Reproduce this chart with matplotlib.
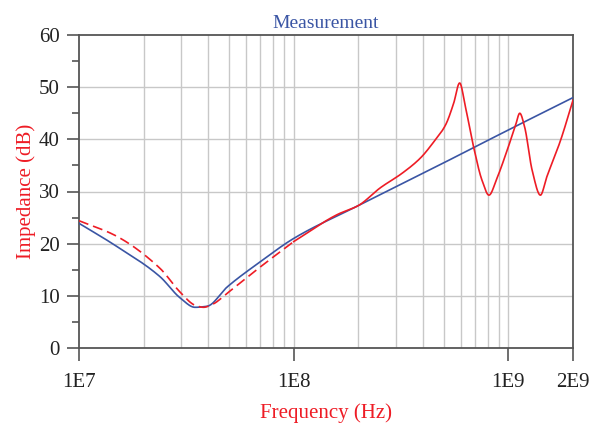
import numpy as np
import matplotlib.pyplot as plt
from matplotlib.ticker import FixedLocator, NullFormatter, FixedFormatter

FONT = 'Liberation Serif'
BLUE = '#3a55a4'
RED = '#ee1c25'

# blue trace (measurement)
blue_f = [1e7, 1.47e7, 2.38e7, 2.96e7, 3.47e7, 3.95e7, 4.9e7, 6.97e7, 1e8, 2e8, 5e8, 1e9, 2e9]
blue_db = [23.9, 19.7, 13.7, 9.6, 7.8, 8.0, 11.7, 16.5, 21.0, 27.3, 35.5, 41.8, 48.0]

# red trace, dashed part (low frequency)
red_lo_f = [1e7, 1.47e7, 2.38e7, 2.96e7, 3.47e7, 3.8e7, 4.2e7, 4.9e7, 6.97e7, 1e8]
red_lo_db = [24.4, 21.6, 15.3, 10.7, 8.2, 7.8, 8.4, 10.5, 15.5, 20.4]

# red trace, solid part (high frequency)
red_hi_f = [1e8, 1.6e8, 2e8, 2.53e8, 3.2e8, 3.89e8, 4.49e8, 5.09e8, 5.56e8, 5.93e8, 6.31e8,
            6.89e8, 7.53e8, 8.12e8, 8.84e8, 9.87e8, 1.08e9, 1.13e9, 1.19e9, 1.29e9, 1.41e9,
            1.51e9, 1.75e9, 2e9]
red_hi_db = [20.4, 25.6, 27.3, 30.7, 33.5, 36.4, 39.5, 42.7, 46.9, 50.8, 46.2,
             38.5, 32.2, 29.3, 32.5, 37.9, 42.7, 45.0, 42.4, 34.1, 29.3,
             32.8, 39.8, 47.5]

x_ticks = [1e7, 1e8, 1e9, 2e9]
x_labels = ['1E7', '1E8', '1E9', '2E9']


# shape-preserving cubic through the read points, in log frequency
def pchip(f, v, n=600):
    x = np.log10(np.asarray(f, float))
    y = np.asarray(v, float)
    h = np.diff(x)
    d = np.diff(y) / h
    m = np.zeros_like(y)
    for i in range(1, len(y) - 1):
        if d[i - 1] * d[i] > 0:
            w1 = 2 * h[i] + h[i - 1]
            w2 = h[i] + 2 * h[i - 1]
            m[i] = (w1 + w2) / (w1 / d[i - 1] + w2 / d[i])
    m[0] = d[0]
    m[-1] = d[-1]
    xs = np.linspace(x[0], x[-1], n)
    idx = np.clip(np.searchsorted(x, xs) - 1, 0, len(h) - 1)
    t = (xs - x[idx]) / h[idx]
    h00 = 2 * t ** 3 - 3 * t ** 2 + 1
    h10 = t ** 3 - 2 * t ** 2 + t
    h01 = -2 * t ** 3 + 3 * t ** 2
    h11 = t ** 3 - t ** 2
    ys = h00 * y[idx] + h10 * h[idx] * m[idx] + h01 * y[idx + 1] + h11 * h[idx] * m[idx + 1]
    return 10 ** xs, ys


plt.rcParams['font.family'] = FONT
fig = plt.figure(figsize=(5.9, 4.24), dpi=100)
ax = fig.add_axes([79 / 590, 1 - 348 / 424, (573 - 79) / 590, (348 - 35) / 424])

ax.set_xscale('log')
ax.set_xlim(1e7, 2e9)
ax.set_ylim(0, 60)

bf, bv = pchip(blue_f, blue_db)
ax.plot(bf, bv, color=BLUE, lw=1.2, zorder=3)
rf, rv = pchip(red_lo_f, red_lo_db, 300)
ax.plot(rf, rv, color=RED, lw=1.2, ls=(0, (6, 3)), zorder=4)
rf, rv = pchip(red_hi_f, red_hi_db, 800)
ax.plot(rf, rv, color=RED, lw=1.2, zorder=4)

# grid
grid_x = [m * 10 ** e for e in (7, 8) for m in range(2, 10)] + [1e8, 1e9]
for gx in grid_x:
    ax.axvline(gx, color='#c8c8c8', lw=1.0, zorder=1)
for gy in range(10, 60, 10):
    ax.axhline(gy, color='#c8c8c8', lw=1.0, zorder=1)

ax.xaxis.set_major_locator(FixedLocator(x_ticks))
ax.xaxis.set_major_formatter(FixedFormatter(x_labels))
ax.xaxis.set_minor_locator(FixedLocator([]))
ax.xaxis.set_minor_formatter(NullFormatter())
ax.set_yticks(range(0, 61, 10))
ax.set_yticks(range(5, 60, 10), minor=True)

ax.tick_params(axis='both', which='major', direction='out', length=9, width=1.2,
               color='#555555', labelsize=15, labelcolor='#222222')
ax.tick_params(axis='x', which='major', pad=9)
ax.tick_params(axis='y', which='major', pad=5)
ax.tick_params(axis='y', which='minor', direction='out', length=5, width=1.2, color='#555555')

for s in ax.spines.values():
    s.set_color('#555555')
    s.set_linewidth(1.3)

ax.set_title('Measurement', color=BLUE, fontsize=14, pad=5)
ax.set_xlabel('Frequency (Hz)', color=RED, fontsize=15, labelpad=8)
ax.set_ylabel('Impedance (dB)', color=RED, fontsize=15, labelpad=2)

fig.savefig('out.png', dpi=100)
